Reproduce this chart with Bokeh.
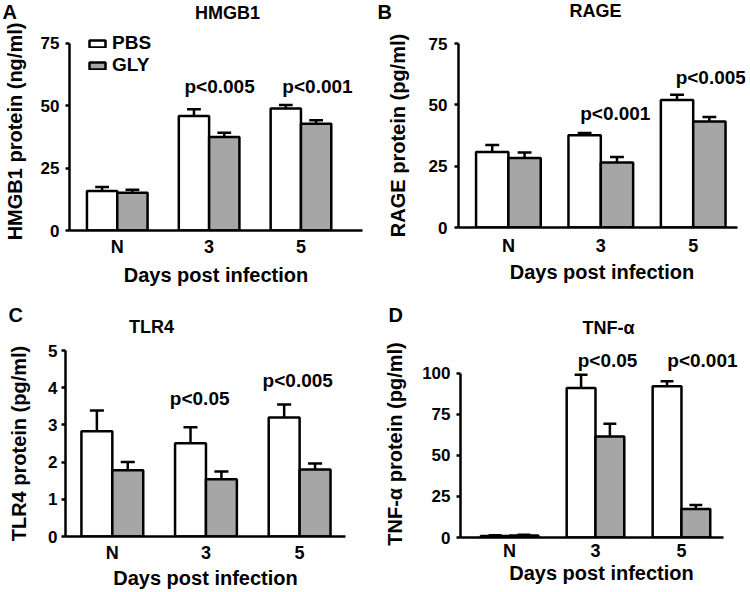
import numpy as np
from bokeh.plotting import figure
from bokeh.layouts import column, row
from bokeh.models import Range1d, FixedTicker, Label, Legend, LegendItem
from bokeh.embed import file_html
from bokeh.resources import INLINE

# ---------------- data ----------------
groups = ["N", "3", "5"]
series_names = ["PBS", "GLY"]

hmgb1_pbs = [15.8, 45.9, 48.9]
hmgb1_pbs_err = [1.6, 2.7, 1.4]
hmgb1_gly = [15.1, 37.5, 42.8]
hmgb1_gly_err = [1.2, 1.7, 1.4]
hmgb1_p = ["p<0.005", "p<0.001"]

rage_pbs = [30.8, 37.6, 52.0]
rage_pbs_err = [2.8, 0.9, 2.1]
rage_gly = [28.3, 26.5, 43.2]
rage_gly_err = [2.3, 2.2, 1.8]
rage_p = ["p<0.001", "p<0.005"]

tlr4_pbs = [2.83, 2.51, 3.20]
tlr4_pbs_err = [0.56, 0.43, 0.35]
tlr4_gly = [1.78, 1.54, 1.80]
tlr4_gly_err = [0.22, 0.21, 0.16]
tlr4_p = ["p<0.05", "p<0.005"]

tnf_pbs = [0.9, 91.2, 92.2]
tnf_pbs_err = [0.4, 8.0, 3.1]
tnf_gly = [1.2, 61.6, 17.3]
tnf_gly_err = [0.5, 7.8, 2.5]
tnf_p = ["p<0.05", "p<0.001"]

yticks_hmgb1 = [0, 25, 50, 75]
yticks_rage = [0, 25, 50, 75]
yticks_tlr4 = [0, 1, 2, 3, 4, 5]
yticks_tnf = [0, 25, 50, 75, 100]

FONT = "Liberation Sans"
GRAY = "#a6a6a6"
LW = 2.5
W = 375


def text_label(x, y, text, size, align="center"):
    return Label(x=x, y=y, text=text, text_font=FONT, text_font_style="bold",
                 text_font_size=size, text_color="black",
                 text_align=align, text_baseline="middle")


def header(letter, title, h, letter_pos, title_pos):
    p = figure(width=W, height=h, output_backend="svg", toolbar_location=None,
               x_range=Range1d(0, W), y_range=Range1d(0, h), title=None,
               x_axis_type=None, y_axis_type=None, min_border=0,
               min_border_left=0, min_border_right=0, min_border_top=0, min_border_bottom=0,
               outline_line_color=None, background_fill_color="white",
               border_fill_color="white")
    p.grid.visible = False
    p.add_layout(text_label(letter_pos[0], letter_pos[1], letter, "20px", "left"))
    p.add_layout(text_label(title_pos[0], title_pos[1], title, "18px"))
    return p


def chart(ylabel, yticks, ytop, h, pbs, pbs_err, gly, gly_err, ptexts,
          xr, xbounds, bar_w, borders, p_pos,
          ylab_standoff, ytick_standoff, xtick_standoff, xlab_standoff, legend=None):
    left, right, top, bottom = borders
    p = figure(width=W, height=h, output_backend="svg", toolbar_location=None,
               x_range=Range1d(*xr), y_range=Range1d(0, ytop), title=None,
               min_border_left=left, min_border_right=right,
               min_border_top=top, min_border_bottom=bottom,
               outline_line_color=None, background_fill_color="white",
               border_fill_color="white")
    p.grid.visible = False

    gx = np.arange(len(groups), dtype=float)
    x_pbs = gx - bar_w / 2
    x_gly = gx + bar_w / 2
    pbs = np.array(pbs); gly = np.array(gly)
    pbs_top = pbs + np.array(pbs_err)
    gly_top = gly + np.array(gly_err)
    cap = 0.075

    r_pbs = p.vbar(x=x_pbs, top=pbs, bottom=0, width=bar_w, fill_color="white",
                   line_color="black", line_width=LW)
    r_gly = p.vbar(x=x_gly, top=gly, bottom=0, width=bar_w, fill_color=GRAY,
                   line_color="black", line_width=LW)
    for xs, lo, hi in ((x_pbs, pbs, pbs_top), (x_gly, gly, gly_top)):
        p.segment(x0=xs, y0=lo, x1=xs, y1=hi, line_color="black", line_width=LW)
        p.segment(x0=xs - cap, y0=hi, x1=xs + cap, y1=hi, line_color="black", line_width=LW)

    xa = p.xaxis[0]
    xa.ticker = FixedTicker(ticks=list(gx))
    xa.major_label_overrides = {i: g for i, g in enumerate(groups)}
    xa.bounds = xbounds
    xa.major_tick_out = 0
    xa.major_tick_in = 0
    xa.minor_tick_out = 0
    xa.minor_tick_in = 0
    xa.axis_line_width = LW
    xa.axis_line_color = "black"
    xa.major_label_text_font = FONT
    xa.major_label_text_font_style = "bold"
    xa.major_label_text_font_size = "18px"
    xa.major_label_text_color = "black"
    xa.major_label_standoff = xtick_standoff
    xa.axis_label = "Days post infection"
    xa.axis_label_text_font = FONT
    xa.axis_label_text_font_style = "bold"
    xa.axis_label_text_font_size = "20px"
    xa.axis_label_text_color = "black"
    xa.axis_label_standoff = xlab_standoff

    ya = p.yaxis[0]
    ya.ticker = FixedTicker(ticks=yticks)
    ya.bounds = (yticks[0], yticks[-1])
    ya.major_tick_out = 4
    ya.major_tick_in = 0
    ya.minor_tick_out = 0
    ya.minor_tick_in = 0
    ya.major_tick_line_width = LW
    ya.major_tick_line_color = "black"
    ya.axis_line_width = LW
    ya.axis_line_color = "black"
    ya.major_label_text_font = FONT
    ya.major_label_text_font_style = "bold"
    ya.major_label_text_font_size = "17px"
    ya.major_label_text_color = "black"
    ya.major_label_standoff = ytick_standoff
    ya.axis_label = ylabel
    ya.axis_label_text_font = FONT
    ya.axis_label_text_font_style = "bold"
    ya.axis_label_text_font_size = "20px"
    ya.axis_label_text_color = "black"
    ya.axis_label_standoff = ylab_standoff

    for t, (px, py) in zip(ptexts, p_pos):
        p.add_layout(text_label(px, py, t, "19px"))

    if legend is not None:
        lg = Legend(items=[LegendItem(label=series_names[0], renderers=[r_pbs]),
                           LegendItem(label=series_names[1], renderers=[r_gly])],
                    location=legend, orientation="vertical",
                    glyph_width=20, glyph_height=9, label_height=9,
                    label_text_font=FONT, label_text_font_style="bold",
                    label_text_font_size="19px", label_text_color="black",
                    label_standoff=5, spacing=-2, padding=0, margin=0,
                    border_line_color=None, background_fill_alpha=0)
        p.add_layout(lg)
    return p


# Panel A  (header 0-23, chart 23-296, frame 32-230)
hA = header("A", "HMGB1", 23, (2, 11.5), (227, 10.5))
cA = chart("HMGB1 protein (ng/ml)", yticks_hmgb1, 79.4, 273,
           hmgb1_pbs, hmgb1_pbs_err, hmgb1_gly, hmgb1_gly_err, hmgb1_p,
           xr=(-0.52, 2.67), xbounds=(-0.52, 2.67), bar_w=0.33, borders=(65, 13, 9, 66),
           p_pos=[(1.114, 57.8), (2.18, 57.6)],
           ylab_standoff=12, ytick_standoff=6, xtick_standoff=6, xlab_standoff=4,
           legend=(18, 154))

# Panel B  (header 0-24, chart 24-296, frame 43-227)
hB = header("B", "RAGE", 24, (2, 13), (220, 14))
cB = chart("RAGE protein (pg/ml)", yticks_rage, 75, 272,
           rage_pbs, rage_pbs_err, rage_gly, rage_gly_err, rage_p,
           xr=(-0.54, 2.566), xbounds=(-0.54, 2.48), bar_w=0.35, borders=(83, 5, 19, 69),
           p_pos=[(1.157, 46.3), (2.19, 61.0)],
           ylab_standoff=17, ytick_standoff=7, xtick_standoff=8, xlab_standoff=2)

# Panel C  (header 296-340, chart 340-592, frame 350-536)
hC = header("C", "TLR4", 44, (8, 26), (151, 14))
cC = chart("TLR4 protein (pg/ml)", yticks_tlr4, 5, 252,
           tlr4_pbs, tlr4_pbs_err, tlr4_gly, tlr4_gly_err, tlr4_p,
           xr=(-0.50, 2.49), xbounds=(-0.50, 2.49), bar_w=0.33, borders=(65, 30, 10, 56),
           p_pos=[(0.933, 3.72), (1.98, 4.20)],
           ylab_standoff=15, ytick_standoff=4, xtick_standoff=6, xlab_standoff=1)

# Panel D  (header 296-340, chart 340-592, frame 350-537)
hD = header("D", "TNF-α", 44, (13, 26), (233, 13))
cD = chart("TNF-α protein (pg/ml)", yticks_tnf, 114.0, 252,
           tnf_pbs, tnf_pbs_err, tnf_gly, tnf_gly_err, tnf_p,
           xr=(-0.57, 2.71), xbounds=(-0.57, 2.49), bar_w=0.335, borders=(85, 8, 10, 55),
           p_pos=[(1.14, 107.9), (2.244, 107.9)],
           ylab_standoff=13, ytick_standoff=6, xtick_standoff=3, xlab_standoff=-2)

left_col = column(row(hA), row(cA), row(hC), row(cC))
right_col = column(row(hB), row(cB), row(hD), row(cD))
layout = row(left_col, right_col)
open("out.html", "w").write(file_html(layout, INLINE))
